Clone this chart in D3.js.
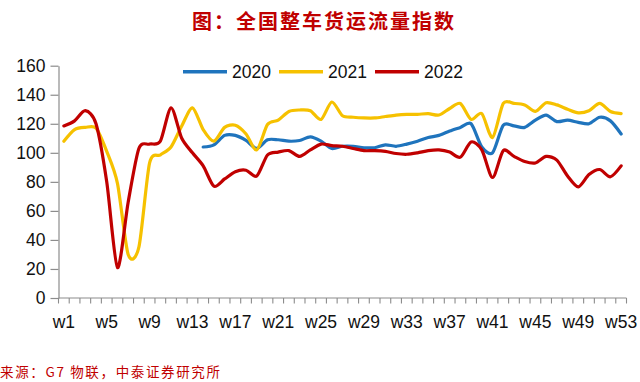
<!DOCTYPE html>
<html>
<head>
<meta charset="utf-8">
<script src="https://cdn.jsdelivr.net/npm/d3@7"></script>
<style>
  html, body { margin: 0; padding: 0; background: #ffffff; }
  svg { display: block; }
</style>
</head>
<body>
<svg id="chart" width="640" height="382"></svg>
<script>
// ---- data ----
const weeks = d3.range(1, 54).map(i => "w" + i);
const tickLabels = ["w1","w5","w9","w13","w17","w21","w25","w29","w33","w37","w41","w45","w49","w53"];
const yTicks = [0, 20, 40, 60, 80, 100, 120, 140, 160];
const seriesNames = ["2020", "2021", "2022"];

const values2020 = [null,null,null,null,null,null,null,null,null,null,null,null,null,
  104,105.5,112,112,108.5,103,109,109,108,108.5,111,108,103,104.5,104.5,103.5,103.5,105.5,104.5,106,108,110.5,112,115,117.5,120,104,100,119,118.5,117.5,122.5,126,121.5,122.5,121,120,124.5,122,113];
const values2021 = [108,116,117.5,117,101,79,30,35,93,98.5,104,118.5,131,
  116,108,117.5,119,113,102,119.5,122.5,128.5,129.5,129,123,135,125.5,124.5,124,124,125,126,126.5,126.5,127,126,130.5,134,123,127,110.5,134,134,133,128.5,134.5,133,130,127.5,129,134,128.5,127];
const values2022 = [118.5,122,129,120,80,21,66,103,106,108,131,110,100,
  91,77,82,87,88,84,98.5,100.5,101.5,97.5,102,106,105,104.5,103,101.5,101.5,101,99.5,99,100,101.5,102,100.5,97,107.5,102,83,101.5,97.5,94,93,97.5,95,84,76.5,85,88.5,83.5,91];

const colors = ["#1f74bd", "#f6c100", "#c00000"];
const allValues = [values2020, values2021, values2022];

// ---- layout ----
const svg = d3.select("#chart");
const x = d3.scaleBand().domain(weeks).range([58.5, 626.5]);
const y = d3.scaleLinear().domain([0, 160]).range([298, 65.7]);

// title
svg.append("text")
  .attr("x", 323).attr("y", 29)
  .attr("text-anchor", "middle")
  .attr("font-family", "'Noto Sans CJK SC', sans-serif")
  .attr("font-weight", "bold")
  .attr("font-size", 20)
  .attr("fill", "#c00000")
  .attr("textLength", 262)
  .text("图：全国整车货运流量指数");

// y axis
const yAxis = d3.axisLeft(y).tickValues(yTicks).tickSize(8).tickPadding(5).tickSizeOuter(0);
const gy = svg.append("g").attr("transform", "translate(58.5,0)").call(yAxis);
gy.select(".domain").attr("stroke", "#8c8c8c").attr("stroke-width", 1.2);
gy.selectAll(".tick line").attr("stroke", "#8c8c8c").attr("stroke-width", 1.2);
gy.selectAll(".tick text")
  .attr("font-family", "Arial, 'Liberation Sans', sans-serif")
  .attr("font-size", 17.5).attr("fill", "#111");

// x axis (ticks between categories)
const gx = svg.append("g").attr("transform", "translate(0,298)");
gx.append("line").attr("x1", 58.5).attr("x2", 626.5).attr("y1", 0).attr("y2", 0)
  .attr("stroke", "#8c8c8c").attr("stroke-width", 1.2);
const boundaries = weeks.map(w => x(w)).concat([x(weeks[weeks.length - 1]) + x.bandwidth()]);
gx.selectAll("line.tk").data(boundaries).join("line")
  .attr("class", "tk")
  .attr("x1", d => d).attr("x2", d => d).attr("y1", 0).attr("y2", 5.5)
  .attr("stroke", "#8c8c8c").attr("stroke-width", 1.1);
gx.selectAll("text").data(tickLabels).join("text")
  .attr("x", d => x(d) + x.bandwidth() / 2)
  .attr("y", 30)
  .attr("text-anchor", "middle")
  .attr("font-family", "Arial, 'Liberation Sans', sans-serif")
  .attr("font-size", 17.5).attr("fill", "#111")
  .text(d => d);

// lines
const line = d3.line()
  .defined(d => d.v !== null)
  .x(d => x(d.w) + x.bandwidth() / 2)
  .y(d => y(d.v))
  .curve(d3.curveCardinal.tension(0.2));

allValues.forEach((vals, i) => {
  const data = weeks.map((w, j) => ({ w: w, v: vals[j] }));
  svg.append("path")
    .datum(data)
    .attr("fill", "none")
    .attr("stroke", colors[i])
    .attr("stroke-width", 3.2)
    .attr("stroke-linejoin", "round")
    .attr("stroke-linecap", "round")
    .attr("d", line);
});

// legend
const legendX = [183, 279, 375];
seriesNames.forEach((name, i) => {
  const g = svg.append("g");
  g.append("line")
    .attr("x1", legendX[i]).attr("x2", legendX[i] + 44)
    .attr("y1", 71.7).attr("y2", 71.7)
    .attr("stroke", colors[i]).attr("stroke-width", 3.5);
  g.append("text")
    .attr("x", legendX[i] + 49).attr("y", 71.7)
    .attr("dy", "0.35em")
    .attr("font-family", "Arial, 'Liberation Sans', sans-serif")
    .attr("font-size", 17.5).attr("fill", "#111")
    .text(name);
});

// source
svg.append("text")
  .attr("x", 0).attr("y", 377)
  .attr("font-family", "'Noto Sans CJK SC', sans-serif")
  .attr("font-size", 13.5)
  .attr("fill", "#c00000")
  .attr("textLength", 220)
  .text("来源：G7 物联，中泰证券研究所");
</script>
</body>
</html>
